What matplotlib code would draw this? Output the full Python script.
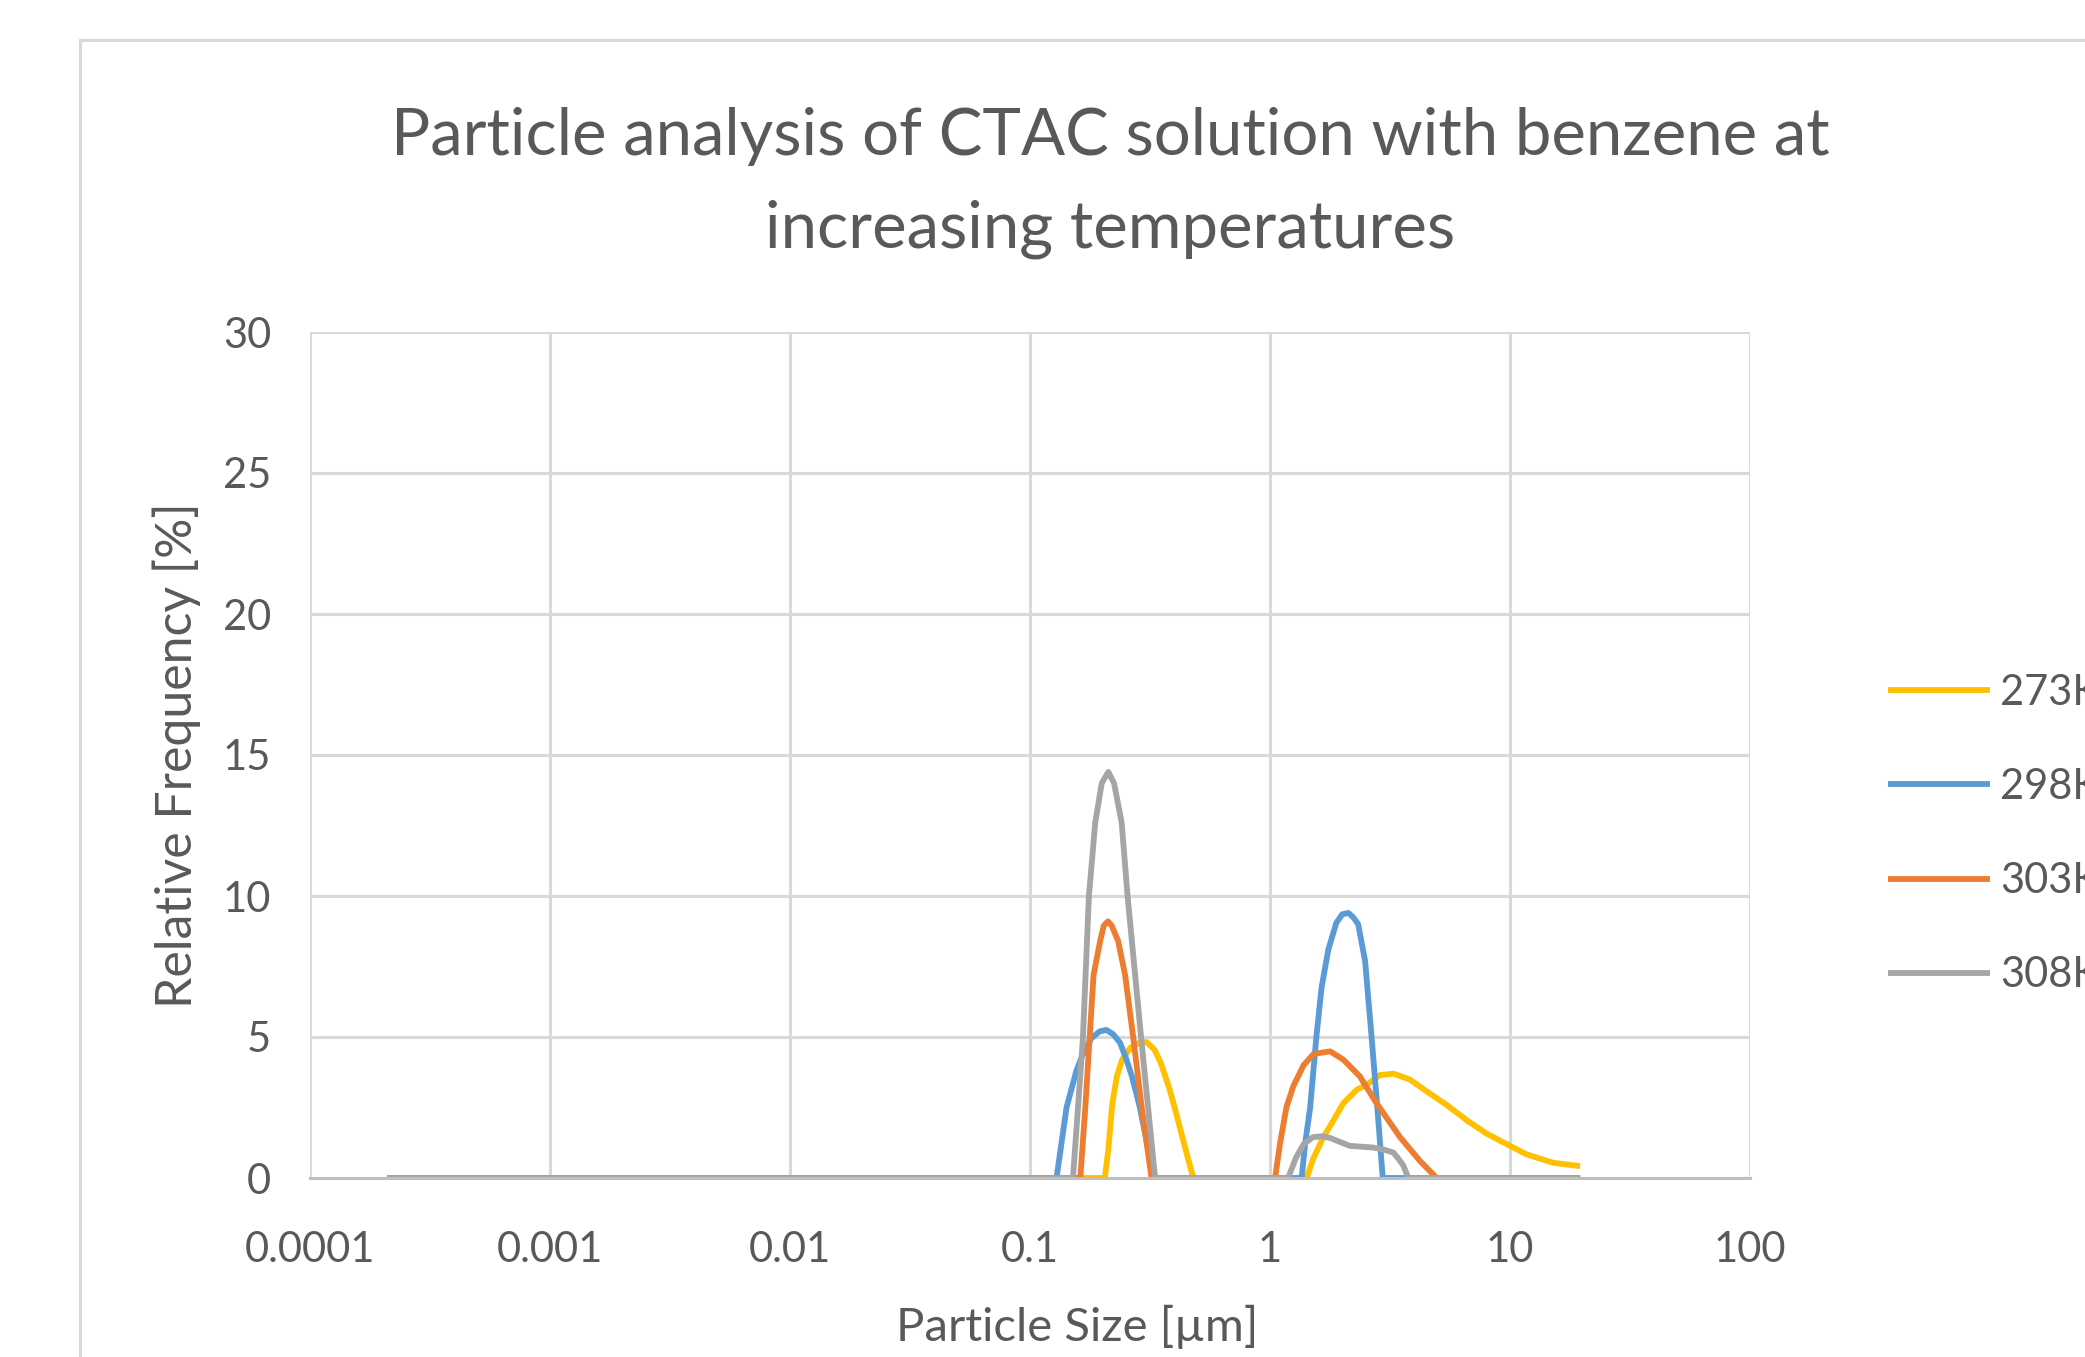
import matplotlib
matplotlib.use("Agg")
import matplotlib.pyplot as plt
from matplotlib.patches import Rectangle

# Particle size distributions (size in um, frequency in %)
size_273 = [0.00021, 0.205, 0.212, 0.220, 0.230, 0.242, 0.262, 0.285, 0.306, 0.330, 0.350,
            0.380, 0.405, 0.430, 0.455, 0.479, 1.42, 1.52, 1.67, 1.84, 2.02, 2.30, 2.53,
            2.87, 3.27, 3.83, 4.50, 5.45, 6.60, 8.00, 9.70, 11.7, 15.1, 19.6]
freq_273 = [0, 0, 1.0, 2.6, 3.6, 4.2, 4.62, 4.8, 4.82, 4.55, 4.1,
            3.2, 2.35, 1.5, 0.7, 0, 0, 0.72, 1.45, 2.05, 2.65, 3.13, 3.31,
            3.65, 3.7, 3.49, 3.07, 2.59, 2.05, 1.57, 1.2, 0.84, 0.54, 0.42]

size_298 = [0.00021, 0.129, 0.142, 0.156, 0.168, 0.180, 0.195, 0.208, 0.222, 0.237, 0.250,
            0.266, 0.287, 0.306, 0.327, 1.355, 1.40, 1.47, 1.56, 1.64, 1.75, 1.89, 2.00,
            2.12, 2.22, 2.33, 2.49, 2.65, 2.80, 2.95, 19.6]
freq_298 = [0, 0, 2.5, 3.8, 4.5, 4.95, 5.2, 5.25, 5.1, 4.8, 4.3,
            3.6, 2.5, 1.3, 0, 0, 1.2, 2.5, 5.0, 6.75, 8.1, 9.05, 9.35,
            9.4, 9.25, 9.0, 7.7, 5.0, 2.5, 0, 0]

size_303 = [0.00021, 0.162, 0.170, 0.177, 0.184, 0.196, 0.203, 0.211, 0.219, 0.233, 0.249,
            0.270, 0.292, 0.321, 1.05, 1.10, 1.17, 1.25, 1.38, 1.52, 1.78, 2.02, 2.37,
            2.78, 3.48, 4.22, 4.95, 19.6]
freq_303 = [0, 0, 2.5, 4.9, 7.2, 8.4, 8.95, 9.1, 8.95, 8.4, 7.2,
            4.9, 2.5, 0, 0, 1.2, 2.5, 3.25, 4.0, 4.4, 4.49, 4.2, 3.6,
            2.65, 1.45, 0.6, 0, 0]

size_308 = [0.00021, 0.151, 0.166, 0.176, 0.187, 0.199, 0.212, 0.224, 0.241, 0.255, 0.291,
            0.332, 1.19, 1.28, 1.38, 1.51, 1.65, 1.78, 2.15, 2.69, 3.00, 3.27, 3.45,
            3.59, 3.77, 19.6]
freq_308 = [0, 0, 4.9, 10.0, 12.6, 14.0, 14.4, 14.0, 12.6, 10.0, 4.9,
            0, 0, 0.7, 1.2, 1.45, 1.48, 1.42, 1.14, 1.08, 1.0, 0.9, 0.65,
            0.45, 0, 0]

labels = ['273K', '298K', '303K', '308K']
colors = ['#FFC000', '#5B9BD5', '#ED7D31', '#A5A5A5']
x_ticks = [0.0001, 0.001, 0.01, 0.1, 1, 10, 100]
x_tick_labels = ['0.0001', '0.001', '0.01', '0.1', '1', '10', '100']
y_ticks = [0, 5, 10, 15, 20, 25, 30]

plt.rcParams['font.family'] = ['Lato', 'DejaVu Sans']
text_color = '#595959'
grid_color = '#D9D9D9'

W, H = 2085, 1357
fig = plt.figure(figsize=(W / 100, H / 100), dpi=100)
fig.patch.set_facecolor('white')

# chart area border (cropped on the right and bottom)
fig.add_artist(Rectangle((80 / W, -0.2), 2.0, 1.2 - 40 / H, transform=fig.transFigure,
                         fill=False, edgecolor=grid_color, linewidth=2.2))

ax = fig.add_axes([310 / W, 1 - 1178 / H, (1750 - 310) / W, (1178 - 332) / H])

series = [(size_273, freq_273), (size_298, freq_298), (size_303, freq_303), (size_308, freq_308)]
for (xs, ys), lab, col in zip(series, labels, colors):
    ax.plot(xs, ys, color=col, linewidth=4.2, label=lab, solid_joinstyle='round',
            solid_capstyle='butt')

ax.set_xscale('log')
ax.set_xlim(0.0001, 100)
ax.set_ylim(0, 30)
ax.set_xticks(x_ticks)
ax.set_xticklabels(x_tick_labels)
ax.xaxis.set_minor_locator(matplotlib.ticker.NullLocator())
ax.set_yticks(y_ticks)
ax.grid(True, color=grid_color, linewidth=2.2)
ax.set_axisbelow(True)
for side in ['top', 'right', 'left']:
    ax.spines[side].set_visible(False)
ax.spines['bottom'].set_color('#BFBFBF')
ax.spines['bottom'].set_linewidth(2.2)
ax.tick_params(axis='both', length=0, labelsize=30, labelcolor=text_color)
ax.tick_params(axis='x', pad=38)
ax.tick_params(axis='y', pad=28)

fig.text(1110 / W, 1 - 136 / H, 'Particle analysis of CTAC solution with benzene at',
         ha='center', va='center', fontsize=47, color=text_color)
fig.text(1110 / W, 1 - 229 / H, 'increasing temperatures',
         ha='center', va='center', fontsize=47, color=text_color)
fig.text(1077 / W, 1 - 1327 / H, 'Particle Size [µm]', ha='center', va='center',
         fontsize=34, color=text_color)
fig.text(177 / W, 1 - 755 / H, 'Relative Frequency [%]', ha='center', va='center',
         rotation=90, fontsize=36, color=text_color)

ax.legend(loc='center left', bbox_to_anchor=(1888 / W, 1 - 834 / H),
          bbox_transform=fig.transFigure, frameon=False, fontsize=30,
          labelcolor=text_color, handlelength=2.45, handletextpad=0.25,
          labelspacing=1.35, borderpad=0, borderaxespad=0)

fig.savefig('out.png', dpi=100)
